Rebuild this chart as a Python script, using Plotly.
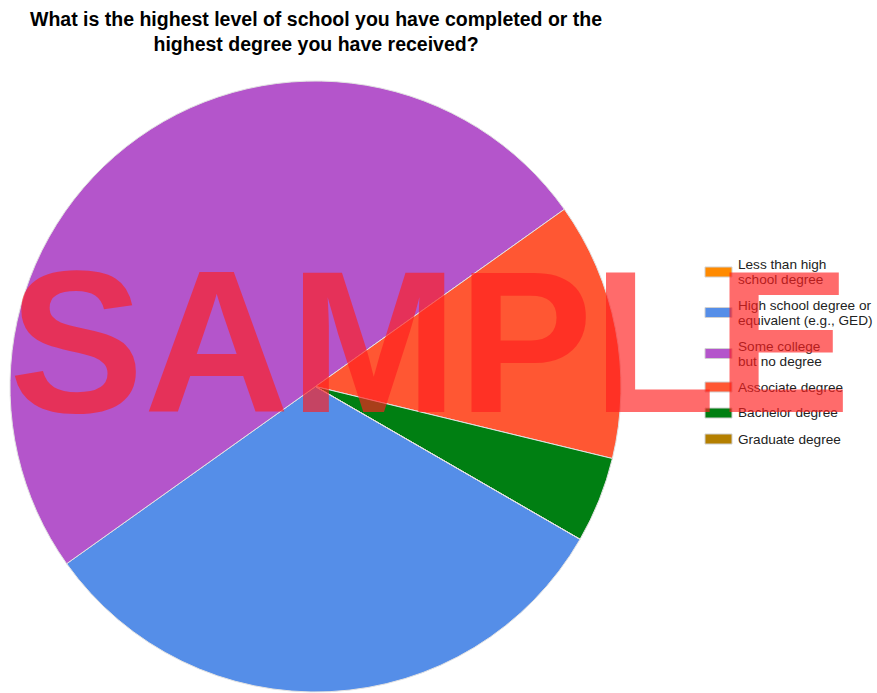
import plotly.graph_objects as go

# Survey responses: highest level of school completed
categories = [
    "Less than high school degree",
    "High school degree or equivalent (e.g., GED)",
    "Some college but no degree",
    "Associate degree",
    "Bachelor degree",
    "Graduate degree",
]
legend_lines = [
    ["Less than high", "school degree"],
    ["High school degree or", "equivalent (e.g., GED)"],
    ["Some college", "but no degree"],
    ["Associate degree"],
    ["Bachelor degree"],
    ["Graduate degree"],
]
responses = [0, 7, 11, 3, 1, 0]
colors = ["#FF8A00", "#558EE8", "#B455CB", "#FF5733", "#007F12", "#B47F00"]

title_lines = [
    "What is the highest level of school you have completed or the",
    "highest degree you have received?",
]
watermark = "SAMPLE"

W, H = 877, 693


def px(x):
    return x / W


def py(y):
    return 1 - y / H


fig = go.Figure(
    go.Pie(
        labels=categories,
        values=responses,
        marker=dict(colors=colors, line=dict(color="#e2e2e2", width=1)),
        sort=False,
        direction="clockwise",
        rotation=120,
        textinfo="none",
        showlegend=False,
        domain=dict(x=[px(10), px(621)], y=[0, py(80)]),
    )
)

annotations = []
shapes = []

# Title, centred over the pie
annotations.append(dict(
    text="<b>" + "<br>".join(title_lines) + "</b>",
    x=px(316), y=py(6), xref="paper", yref="paper",
    xanchor="center", yanchor="top", showarrow=False, align="center",
    font=dict(family="Arial", size=19.5, color="#000000"),
))

# Legend: swatch + wrapped label per category (15px line pitch)
legend_y = [272, 312.5, 353.5, 387, 413, 439]
line_pitch = 15
for lines, color, yc in zip(legend_lines, colors, legend_y):
    shapes.append(dict(
        type="rect", xref="paper", yref="paper",
        x0=px(705), x1=px(732), y0=py(yc - 5), y1=py(yc + 5),
        fillcolor=color, line=dict(color="#d0d0d0", width=1), layer="above",
    ))
    first = yc - (len(lines) - 1) * line_pitch / 2
    for i, txt in enumerate(lines):
        annotations.append(dict(
            text=txt, x=px(736), y=py(first + i * line_pitch),
            xref="paper", yref="paper",
            xanchor="left", yanchor="middle", align="left", showarrow=False,
            font=dict(family="Arial", size=13.6, color="#222222"),
        ))

# Watermark on top of everything
annotations.append(dict(
    text="<b>" + watermark + "</b>", x=px(430), y=py(342),
    xref="paper", yref="paper", xanchor="center", yanchor="middle",
    showarrow=False,
    font=dict(family="Arial", size=202, color="rgba(255,30,30,0.66)"),
))

fig.update_layout(
    width=W, height=H,
    margin=dict(l=0, r=0, t=0, b=0),
    paper_bgcolor="white", plot_bgcolor="white",
    annotations=annotations, shapes=shapes,
)

fig.write_html("out.html")
